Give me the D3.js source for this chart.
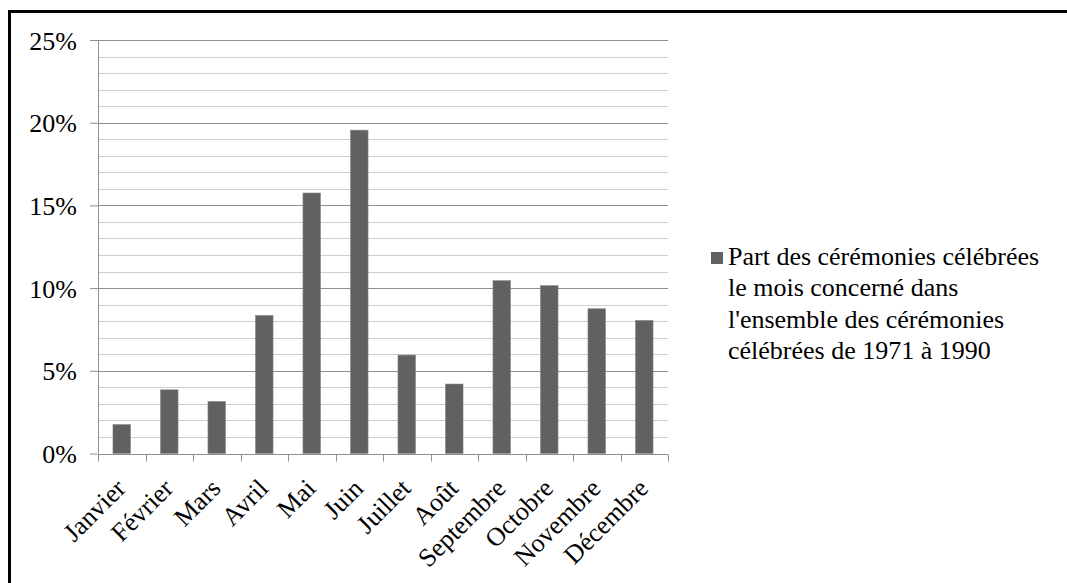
<!DOCTYPE html>
<html>
<head>
<meta charset="utf-8">
<script src="https://cdn.jsdelivr.net/npm/d3@7"></script>
<style>
  html, body { margin: 0; padding: 0; background: #fff; }
  svg { display: block; }
  text { font-family: "Liberation Serif", "Times New Roman", serif; fill: #000; }
</style>
</head>
<body>
<svg id="chart" width="1067" height="583"></svg>
<script>
const months = ["Janvier", "Février", "Mars", "Avril", "Mai", "Juin", "Juillet", "Août", "Septembre", "Octobre", "Novembre", "Décembre"];
const shares = [1.75, 3.85, 3.15, 8.35, 15.75, 19.55, 5.95, 4.2, 10.45, 10.15, 8.75, 8.05];
const majorTicks = [0, 5, 10, 15, 20, 25];
const minorTicks = d3.range(0, 26, 1);
const legendLines = ["Part des cérémonies célébrées", "le mois concerné dans", "l'ensemble des cérémonies", "célébrées de 1971 à 1990"];

const FONT = '"Liberation Serif", "Times New Roman", serif';
const svg = d3.select("#chart");
const W = 1067, H = 583;
const plot = { left: 98, right: 668, top: 40, bottom: 453.5 };

// outer frame
svg.append("rect")
  .attr("x", 9.5).attr("y", 11.5)
  .attr("width", W + 20).attr("height", H + 20)
  .attr("fill", "none").attr("stroke", "#000").attr("stroke-width", 3);

const x = d3.scaleBand().domain(months).range([plot.left, plot.right]).paddingInner(0.63).paddingOuter(0.315);
const xb = d3.scaleBand().domain(months).range([plot.left, plot.right]);
const y = d3.scaleLinear().domain([0, 25]).range([plot.bottom, plot.top]);

// minor gridlines
svg.append("g").selectAll("line").data(minorTicks.filter(t => t % 5 !== 0)).join("line")
  .attr("x1", plot.left).attr("x2", plot.right)
  .attr("y1", d => Math.round(y(d)) + 0.5).attr("y2", d => Math.round(y(d)) + 0.5)
  .attr("stroke", "#cdcdcd").attr("stroke-width", 1.2);
// major gridlines
svg.append("g").selectAll("line").data(majorTicks.filter(t => t > 0)).join("line")
  .attr("x1", plot.left).attr("x2", plot.right)
  .attr("y1", d => Math.round(y(d)) + 0.5).attr("y2", d => Math.round(y(d)) + 0.5)
  .attr("stroke", "#8f8f8f").attr("stroke-width", 1.2);

// y axis
const yAxis = d3.axisLeft(y).tickValues(majorTicks).tickSize(8).tickPadding(13).tickFormat(d => d + "%");
const gy = svg.append("g").attr("transform", `translate(${plot.left},0)`).call(yAxis);
gy.attr("font-family", FONT).attr("font-size", 26);
gy.select(".domain").attr("stroke", "#8f8f8f").attr("d", `M0.5,${plot.top}V${plot.bottom}`);
gy.selectAll(".tick line").attr("stroke", "#8f8f8f");
gy.selectAll(".tick text").attr("font-family", FONT).style("font-size", "26px").attr("fill", "#000").attr("dy", "0.35em");

// bars
svg.append("g").selectAll("rect").data(months).join("rect")
  .attr("x", d => x(d))
  .attr("width", x.bandwidth())
  .attr("y", (d, i) => y(shares[i]))
  .attr("height", (d, i) => y(0) - y(shares[i]))
  .attr("fill", "#616161")
  .attr("stroke", "#8a8a8a").attr("stroke-width", 0.6);

// x axis
const gx = svg.append("g").attr("transform", `translate(0,${Math.round(plot.bottom) + 0.5})`);
gx.append("line").attr("x1", plot.left).attr("x2", plot.right).attr("stroke", "#8f8f8f").attr("stroke-width", 1.2);
const boundaries = months.map(m => xb(m)).concat([plot.right]);
gx.selectAll("line.tk").data(boundaries).join("line").attr("class", "tk")
  .attr("x1", d => Math.round(d) + 0.5).attr("x2", d => Math.round(d) + 0.5)
  .attr("y1", 0).attr("y2", 7).attr("stroke", "#8f8f8f");
gx.selectAll("text").data(months).join("text")
  .attr("transform", d => `translate(${xb(d) + xb.bandwidth() / 2 - 1},29) rotate(-45)`)
  .attr("text-anchor", "end")
  .attr("dy", "0.35em")
  .attr("font-family", FONT)
  .style("font-size", "26px")
  .text(d => d);

// legend
const lg = svg.append("g").attr("transform", "translate(711,252)");
lg.append("rect").attr("x", 0).attr("y", 0).attr("width", 12).attr("height", 12).attr("fill", "#616161");
lg.selectAll("text").data(legendLines).join("text")
  .attr("x", 17).attr("y", (d, i) => 13 + i * 31.3)
  .attr("font-family", FONT)
  .style("font-size", "26px")
  .text(d => d);
</script>
</body>
</html>
